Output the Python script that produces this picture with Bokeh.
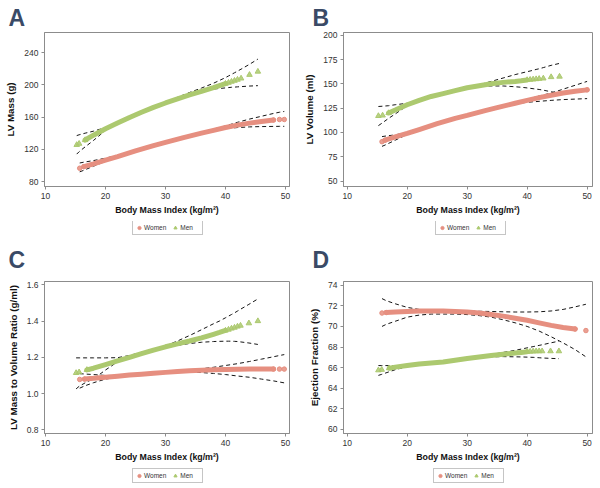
from bokeh.plotting import figure
from bokeh.layouts import column, row
from bokeh.models import Legend, LegendItem, Label, NumeralTickFormatter, FixedTicker, Range1d
from bokeh.embed import file_html
from bokeh.resources import INLINE

# ---------------- data ----------------
X_TICKS = [10, 20, 30, 40, 50]
X_LABEL = "Body Mass Index (kg/m²)"
GROUPS = ["Women", "Men"]

# Panel A: LV Mass (g)
A_TICKS = [80, 120, 160, 200, 240]
A_W_BMI = [15.7, 16.4, 18, 20, 22, 25, 28, 30, 33, 36, 38, 40, 42, 44, 46, 48, 49, 49.8]
A_W_FIT = [96.5, 98.5, 102, 106.5, 111, 118, 124.5, 128.5, 134.5, 140, 143.5, 147, 150, 152.5, 154.5, 156.3, 157, 157]
A_W_HI = [103, 104, 106, 109, 112.5, 119, 125.5, 129.5, 135.5, 141, 145, 149, 153.5, 157.5, 161, 164.5, 166, 167]
A_W_LO = [92, 94, 99, 105, 110, 117, 123.5, 127.5, 133.5, 139, 142.5, 145.5, 147, 147.8, 148.2, 148.4, 148.5, 148.5]
A_M_BMI = [15.2, 15.6, 16.6, 18, 20, 22, 24, 26, 28, 30, 32, 34, 36, 38, 39, 40, 40.5, 41, 41.5, 42, 42.6, 44, 45.4]
A_M_FIT = [125.5, 127, 131.5, 137.5, 145.5, 152.5, 159.5, 166, 172, 177.5, 182.5, 187.5, 192, 196.5, 199, 201.5, 202.7, 204, 205.2, 206.5, 208, 212.5, 216.5]
A_M_HI = [137, 138, 140, 142.5, 147, 153.5, 160.5, 167, 173, 179, 184.5, 190.5, 196, 202, 205.5, 209, 211, 213, 215, 217, 219.5, 225.5, 232]
A_M_LO = [114, 117, 123, 131, 143.5, 151.5, 158.5, 165, 171, 176.5, 182, 187, 192, 194.8, 195.5, 196.2, 196.6, 197, 197.2, 197.5, 197.8, 198.5, 199]

# Panel B: LV Volume (ml)
B_TICKS = [50, 75, 100, 125, 150, 175, 200]
B_W_BMI = [15.8, 16.3, 18, 20, 22, 25, 28, 30, 33, 35, 38, 40, 42, 44, 46, 48, 50]
B_W_FIT = [90.5, 92, 95.5, 99, 103, 109, 114.5, 117.5, 122.5, 125.5, 130, 133, 135.8, 138.3, 140.5, 142.3, 143.8]
B_W_HI = [95.7, 96.2, 97.5, 100, 104, 110, 115.5, 118.5, 123.5, 126.5, 131, 134, 137.5, 140.5, 144.5, 148.5, 152.5]
B_W_LO = [85.7, 87, 92, 98, 102, 108, 113.5, 116.5, 121.5, 124.5, 129.5, 131, 132, 133, 133.8, 134.3, 134.8]
B_M_BMI = [15.2, 15.9, 16.9, 18, 20, 22, 24, 26, 28, 30, 32, 34, 36, 38, 39, 40, 40.5, 41, 41.5, 42, 42.7, 44, 45.4]
B_M_FIT = [117, 117.5, 120, 123, 128.5, 133, 137, 140, 143, 146, 148, 150, 151.5, 152.5, 153.2, 154, 154.3, 154.6, 154.9, 155.2, 155.6, 157, 157.5]
B_M_HI = [126.7, 127, 127.5, 128.5, 130, 133.5, 137.5, 140.5, 143.5, 146.5, 149, 152.5, 156, 159.5, 161, 162.5, 163.2, 164, 164.8, 165.5, 166.7, 169, 171]
B_M_LO = [107, 110, 114.5, 119, 127.5, 132.5, 136.5, 139.5, 142.5, 145.5, 147.3, 147.8, 147.8, 147, 146.5, 145.8, 145.4, 145, 144.6, 144.2, 143.5, 141.8, 140.5]

# Panel C: LV Mass to Volume Ratio (g/ml)
C_TICKS = [0.8, 1.0, 1.2, 1.4, 1.6]
C_W_BMI = [15.7, 16.5, 18, 20, 22, 24, 26, 28, 30, 32, 34, 36, 38, 40, 42, 44, 46, 48, 49, 49.8]
C_W_FIT = [1.078, 1.080, 1.084, 1.090, 1.096, 1.102, 1.107, 1.112, 1.117, 1.122, 1.126, 1.129, 1.131, 1.133, 1.134, 1.135, 1.135, 1.135, 1.135, 1.135]
C_W_HI = [1.11, 1.108, 1.105, 1.10, 1.10, 1.104, 1.109, 1.114, 1.12, 1.125, 1.13, 1.137, 1.145, 1.155, 1.165, 1.177, 1.19, 1.203, 1.21, 1.215]
C_W_LO = [1.03, 1.042, 1.06, 1.08, 1.09, 1.099, 1.104, 1.109, 1.113, 1.116, 1.117, 1.116, 1.111, 1.105, 1.097, 1.09, 1.08, 1.07, 1.064, 1.059]
C_M_BMI = [15.1, 15.6, 16.9, 18, 20, 22, 24, 26, 28, 30, 32, 34, 36, 38, 39, 40, 40.5, 41, 41.5, 42, 42.5, 43.9, 45.4]
C_M_FIT = [1.114, 1.118, 1.131, 1.140, 1.160, 1.180, 1.200, 1.220, 1.240, 1.258, 1.274, 1.290, 1.307, 1.327, 1.337, 1.348, 1.353, 1.359, 1.364, 1.370, 1.375, 1.388, 1.400]
C_M_HI = [1.197, 1.197, 1.197, 1.197, 1.197, 1.198, 1.21, 1.228, 1.246, 1.263, 1.29, 1.32, 1.352, 1.385, 1.40, 1.418, 1.427, 1.436, 1.445, 1.455, 1.465, 1.492, 1.522]
C_M_LO = [1.026, 1.04, 1.065, 1.081, 1.13, 1.175, 1.197, 1.216, 1.236, 1.254, 1.266, 1.276, 1.283, 1.287, 1.288, 1.289, 1.289, 1.289, 1.288, 1.287, 1.285, 1.279, 1.271]

# Panel D: Ejection Fraction (%)
D_TICKS = [60, 62, 64, 66, 68, 70, 72, 74]
D_W_BMI = [15.8, 16.5, 18, 20, 22, 24, 26, 28, 30, 32, 34, 36, 38, 40, 42, 44, 46, 48, 49.8]
D_W_FIT = [71.3, 71.35, 71.4, 71.45, 71.5, 71.5, 71.5, 71.45, 71.4, 71.3, 71.15, 71.0, 70.8, 70.6, 70.35, 70.1, 69.9, 69.75, 69.6]
D_W_HI = [72.7, 72.5, 72.2, 71.85, 71.65, 71.6, 71.55, 71.52, 71.5, 71.47, 71.45, 71.42, 71.4, 71.4, 71.42, 71.5, 71.65, 71.9, 72.15]
D_W_LO = [70.0, 70.2, 70.5, 70.9, 71.1, 71.2, 71.2, 71.2, 71.15, 71.05, 70.9, 70.65, 70.35, 70.0, 69.55, 69.0, 68.4, 67.75, 67.05]
D_M_BMI = [15.2, 15.75, 17, 18, 20, 22, 24, 26, 28, 30, 32, 34, 36, 38, 39, 40, 40.5, 41, 41.5, 42, 42.5, 43.9, 45.3]
D_M_FIT = [65.75, 65.8, 65.95, 66.05, 66.2, 66.35, 66.45, 66.55, 66.72, 66.89, 67.03, 67.17, 67.3, 67.42, 67.48, 67.54, 67.56, 67.58, 67.59, 67.6, 67.6, 67.6, 67.6]
D_M_HI = [66.2, 66.2, 66.2, 66.2, 66.22, 66.35, 66.47, 66.6, 66.76, 66.92, 67.08, 67.27, 67.48, 67.68, 67.8, 67.92, 67.98, 68.04, 68.1, 68.16, 68.22, 68.4, 68.57]
D_M_LO = [65.25, 65.35, 65.6, 65.8, 66.1, 66.3, 66.42, 66.52, 66.68, 66.83, 66.95, 67.05, 67.07, 67.05, 67.04, 67.02, 67.01, 67.0, 66.98, 66.96, 66.94, 66.9, 66.87]

# ---------------- style ----------------
WOMEN_COLOR = "#E68F80"
MEN_COLOR = "#ACC96F"
FRAME = "#8c8c8c"
FONT = "Liberation Sans"
LETTER_COLOR = "#3a4a66"
PANEL_W = 300


def strip(height):
    s = figure(width=PANEL_W, height=height, output_backend="svg", toolbar_location=None,
               x_range=Range1d(0, PANEL_W), y_range=Range1d(0, height),
               x_axis_location=None, y_axis_location=None, min_border=0,
               min_border_left=0, min_border_right=0, min_border_top=0, min_border_bottom=0,
               frame_align=False,
               outline_line_color=None, background_fill_color="white", border_fill_color="white")
    s.title.visible = False
    s.xgrid.visible = False
    s.ygrid.visible = False
    return s


def letter_strip(letter, height, lx, ly):
    s = strip(height)
    s.add_layout(Label(x=lx, y=ly, x_units="screen", y_units="screen", text=letter,
                       text_font=FONT, text_font_size="23px",
                       text_font_style="bold", text_color=LETTER_COLOR, text_baseline="alphabetic"))
    return s


def legend_strip(height, lx, ly, women, men):
    s = strip(height)
    # zero-size copies of the first fitted point of each group: they only feed the legend glyphs
    rw = s.scatter(x=women[0][:1], y=women[1][:1], marker="circle", size=0,
                   fill_color=WOMEN_COLOR, line_color=WOMEN_COLOR)
    rm = s.scatter(x=men[0][:1], y=men[1][:1], marker="triangle", size=0,
                   fill_color=MEN_COLOR, line_color=MEN_COLOR)
    legend = Legend(items=[LegendItem(label=GROUPS[0], renderers=[rw]),
                           LegendItem(label=GROUPS[1], renderers=[rm])],
                    location=(lx, ly), orientation="horizontal",
                    label_text_font=FONT, label_text_font_size="6.5px", label_text_color="#333333",
                    glyph_width=8, glyph_height=9, label_height=9, label_standoff=1,
                    spacing=5, padding=2, margin=0,
                    border_line_color=FRAME, border_line_width=1,
                    background_fill_color="white", background_fill_alpha=1)
    s.add_layout(legend)
    return s


def main_plot(ylabel, yticks, yrange, xrange, height, borders, women, men, wslice, mslice, yfmt=None):
    left, right, top, bottom = borders
    p = figure(width=PANEL_W, height=height, output_backend="svg", toolbar_location=None,
               x_range=Range1d(*xrange), y_range=Range1d(*yrange),
               min_border_left=left, min_border_right=right,
               min_border_top=top, min_border_bottom=bottom, frame_align=False,
               background_fill_color="white", border_fill_color="white")
    p.xgrid.visible = False
    p.ygrid.visible = False
    p.outline_line_color = FRAME
    p.outline_line_width = 1
    for ax in (p.xaxis[0], p.yaxis[0]):
        ax.axis_line_color = FRAME
        ax.major_tick_line_color = FRAME
        ax.minor_tick_line_color = None
        ax.major_tick_in = 0
        ax.major_tick_out = 3
        ax.major_label_text_font = FONT
        ax.major_label_text_font_size = "8.5px"
        ax.major_label_text_color = "#333333"
        ax.major_label_standoff = 3
        ax.axis_label_text_font = FONT
        ax.axis_label_text_font_style = "bold"
        ax.axis_label_text_color = "#111111"
        ax.axis_label_standoff = 3
    p.xaxis.axis_label_text_font_size = "8.8px"
    p.yaxis.axis_label_text_font_size = "9.8px"
    p.yaxis.axis_label_standoff = 5
    p.xaxis.ticker = FixedTicker(ticks=X_TICKS)
    p.yaxis.ticker = FixedTicker(ticks=yticks)
    p.xaxis.axis_label = X_LABEL
    p.yaxis.axis_label = ylabel
    if yfmt:
        p.yaxis.formatter = NumeralTickFormatter(format=yfmt)

    groups = [(women, wslice, WOMEN_COLOR, "circle", 4.5), (men, mslice, MEN_COLOR, "triangle", 5.5)]
    for (bmi, fit, hi, lo), sl, color, mk, sz in groups:
        p.line(bmi, hi, line_color="#151515", line_width=1, line_dash="4 3")
        p.line(bmi, lo, line_color="#151515", line_width=1, line_dash="4 3")
    for (bmi, fit, hi, lo), sl, color, mk, sz in groups:
        i0, i1 = sl
        p.line(bmi[i0:i1 + 1], fit[i0:i1 + 1], line_color=color, line_width=5, line_cap="round")
        keep = [k for k in range(len(bmi)) if k < i0 + 1 or k > i1 - 1]
        p.scatter([bmi[k] for k in keep], [fit[k] for k in keep], marker=mk, size=sz,
                  fill_color=color, line_color=color, fill_alpha=0.85)
    return p


A_W = (A_W_BMI, A_W_FIT, A_W_HI, A_W_LO)
A_M = (A_M_BMI, A_M_FIT, A_M_HI, A_M_LO)
B_W = (B_W_BMI, B_W_FIT, B_W_HI, B_W_LO)
B_M = (B_M_BMI, B_M_FIT, B_M_HI, B_M_LO)
C_W = (C_W_BMI, C_W_FIT, C_W_HI, C_W_LO)
C_M = (C_M_BMI, C_M_FIT, C_M_HI, C_M_LO)
D_W = (D_W_BMI, D_W_FIT, D_W_HI, D_W_LO)
D_M = (D_M_BMI, D_M_FIT, D_M_HI, D_M_LO)

# top row (y 0..244): letter strip 31 + main 190 + legend strip 23
mA = main_plot("LV Mass (g)", A_TICKS, (73.8, 265), (9.83, 50.67), 190, (44, 11, 1, 35),
               A_W, A_M, (1, 15), (2, 15))
mB = main_plot("LV Volume (ml)", B_TICKS, (44.4, 202.8), (9.38, 50.9), 190, (43, 8, 1, 35),
               B_W, B_M, (1, 16), (2, 15))
# bottom row (y 244..488): letter strip 36 + main 188 + legend strip 20
mC = main_plot("LV Mass to Volume Ratio (g/ml)", C_TICKS, (0.78, 1.618), (9.83, 50.67), 188, (44, 11, 1, 35),
               C_W, C_M, (1, 17), (2, 15), yfmt="0.0")
mD = main_plot("Ejection Fraction (%)", D_TICKS, (59.61, 74.36), (9.38, 50.9), 188, (43, 8, 1, 35),
               D_W, D_M, (1, 17), (2, 15))

colA = column(letter_strip("A", 31, 8, 14), mA, legend_strip(23, 132, 9, A_W, A_M))
colB = column(letter_strip("B", 31, 12, 14), mB, legend_strip(23, 135, 9, B_W, B_M))
colC = column(letter_strip("C", 36, 8, 21), mC, legend_strip(20, 132, 5, C_W, C_M))
colD = column(letter_strip("D", 36, 12, 21), mD, legend_strip(20, 133, 5, D_W, D_M))

layout = column(row(colA, colB), row(colC, colD))

open("out.html", "w").write(file_html(layout, INLINE))
